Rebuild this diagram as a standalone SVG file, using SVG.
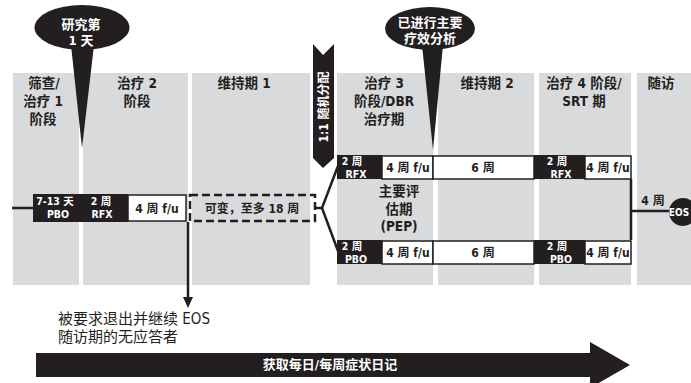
<svg xmlns="http://www.w3.org/2000/svg" width="691" height="383" viewBox="0 0 691 383">
<style>
text{font-family:'Liberation Sans Narrow','DejaVu Sans Condensed','Noto Sans CJK SC',sans-serif;font-weight:bold;}
.col{fill:#d9dadc;}
.hd{font-size:13.5px;fill:#231f20;text-anchor:middle;}
.wt{fill:#ffffff;text-anchor:middle;}
.sm{font-size:10.5px;}
.bt{font-size:12px;fill:#231f20;text-anchor:middle;}
.blk{fill:#231f20;}
.bx{fill:#ffffff;stroke:#231f20;stroke-width:1.5;}
.ln{fill:none;stroke:#231f20;stroke-width:2.5;}
</style>

<g id="columns">
  <g id="col-screening"><rect class="col" x="13" y="73" width="66" height="212"/>
    <text class="hd" x="44" y="88">筛查/</text><text class="hd" x="43" y="106">治疗 1</text><text class="hd" x="43" y="124">阶段</text></g>
  <g id="col-treat2"><rect class="col" x="83" y="73" width="105" height="212"/>
    <text class="hd" x="137" y="88">治疗 2</text><text class="hd" x="137" y="106">阶段</text></g>
  <g id="col-maint1"><rect class="col" x="192" y="73" width="118" height="212"/>
    <text class="hd" x="244" y="88">维持期 1</text></g>
  <g id="col-treat3"><rect class="col" x="337" y="73" width="96" height="212"/>
    <text class="hd" x="384" y="88">治疗 3</text><text class="hd" x="384" y="106">阶段/DBR</text><text class="hd" x="384" y="124">治疗期</text>
    <text class="hd" x="399" y="196">主要评</text><text class="hd" x="399" y="214">估期</text><text class="hd" x="399" y="231">(PEP)</text></g>
  <g id="col-maint2"><rect class="col" x="438" y="73" width="96" height="212"/>
    <text class="hd" x="487" y="88">维持期 2</text></g>
  <g id="col-treat4"><rect class="col" x="539" y="73" width="92" height="212"/>
    <text class="hd" x="584" y="88">治疗 4 阶段/</text><text class="hd" x="584" y="106">SRT 期</text></g>
  <g id="col-followup"><rect class="col" x="637" y="73" width="54" height="212"/>
    <text class="hd" x="661" y="88">随访</text></g>
</g>

<g id="callout-day1">
  <ellipse class="blk" cx="82" cy="27.5" rx="47.5" ry="22.5"/>
  <polygon class="blk" points="71,45 94,45 82,148"/>
  <text class="wt" x="81" y="29" font-size="13">研究第</text>
  <text class="wt" x="81" y="45" font-size="13">1 天</text>
</g>

<g id="callout-primary">
  <ellipse class="blk" cx="430" cy="28.5" rx="45" ry="21.5"/>
  <polygon class="blk" points="422,45 443,45 433,150"/>
  <text class="wt" x="430" y="27" font-size="13">已进行主要</text>
  <text class="wt" x="430" y="43" font-size="13">疗效分析</text>
</g>

<g id="randomization">
  <polygon class="blk" points="313,44 323,55 334,44 334,158 323,168 313,158"/>
  <text class="wt" font-size="12" transform="translate(327.5,107) rotate(-90)">1:1 随机分配</text>
</g>

<g id="connectors">
  <path class="ln" d="M12,208 H33"/>
  <path class="ln" d="M315,208 H322 L338,166 M322,208 L338,251"/>
  <path class="ln" d="M631,179 V240 M631,211 H670"/>
  <path class="ln" d="M188,222 V300"/>
  <polygon class="blk" points="183,297 193,297 188,308"/>
</g>

<g id="row-main">
  <g id="pbo-rfx"><rect class="blk" x="33" y="194" width="95" height="28"/>
    <text class="wt sm" x="55" y="205">7-13 天</text><text class="wt sm" x="58" y="218">PBO</text>
    <text class="wt sm" x="101" y="205">2 周</text><text class="wt sm" x="102" y="218">RFX</text></g>
  <g id="fu1"><rect class="bx" x="128" y="195" width="58" height="26"/><text class="bt" x="157" y="213">4 周 f/u</text></g>
  <g id="variable"><rect x="190" y="195" width="125" height="26" fill="none" stroke="#231f20" stroke-width="2.5" stroke-dasharray="8,4"/>
    <text class="bt" x="252" y="213" font-size="12.5">可变，至多 18 周</text></g>
</g>

<g id="row-rfx">
  <g id="rfx-a"><rect class="blk" x="337" y="155" width="45" height="24"/>
    <text class="wt sm" x="352" y="165">2 周</text><text class="wt sm" x="356" y="177.5">RFX</text></g>
  <g id="rfx-fu-a"><rect class="bx" x="382" y="156" width="51" height="23"/><text class="bt" x="408" y="172">4 周 f/u</text></g>
  <g id="rfx-6w"><rect class="bx" x="433" y="156" width="101" height="23"/><text class="bt" x="483" y="172">6 周</text></g>
  <g id="rfx-b"><rect class="blk" x="534" y="155" width="51" height="24"/>
    <text class="wt sm" x="557" y="165">2 周</text><text class="wt sm" x="561" y="177.5">RFX</text></g>
  <g id="rfx-fu-b"><rect class="bx" x="585" y="156" width="46" height="23"/><text class="bt" x="608" y="172">4 周 f/u</text></g>
</g>

<g id="row-pbo">
  <g id="pbo-a"><rect class="blk" x="337" y="240" width="45" height="24"/>
    <text class="wt sm" x="352" y="250">2 周</text><text class="wt sm" x="356" y="262.5">PBO</text></g>
  <g id="pbo-fu-a"><rect class="bx" x="382" y="241" width="51" height="23"/><text class="bt" x="408" y="257">4 周 f/u</text></g>
  <g id="pbo-6w"><rect class="bx" x="433" y="241" width="101" height="23"/><text class="bt" x="483" y="257">6 周</text></g>
  <g id="pbo-b"><rect class="blk" x="534" y="240" width="51" height="24"/>
    <text class="wt sm" x="557" y="250">2 周</text><text class="wt sm" x="561" y="262.5">PBO</text></g>
  <g id="pbo-fu-b"><rect class="bx" x="585" y="241" width="46" height="23"/><text class="bt" x="608" y="257">4 周 f/u</text></g>
</g>

<g id="eos">
  <text class="bt" x="653" y="205" font-size="12.5">4 周</text>
  <circle class="blk" cx="683" cy="212" r="14"/>
  <text class="wt" x="679" y="216" font-size="10">EOS</text>
</g>

<g id="nonresponders">
  <text x="58" y="324" font-size="15" style="font-weight:normal" fill="#231f20">被要求退出并继续 EOS</text>
  <text x="58" y="342" font-size="15" style="font-weight:normal" fill="#231f20">随访期的无应答者</text>
</g>

<g id="diary">
  <path class="blk" d="M36,353 H590 V342 L630,365 L590,388 V377 H36 Z"/>
  <text class="wt" x="330" y="369" font-size="13">获取每日/每周症状日记</text>
</g>
</svg>
